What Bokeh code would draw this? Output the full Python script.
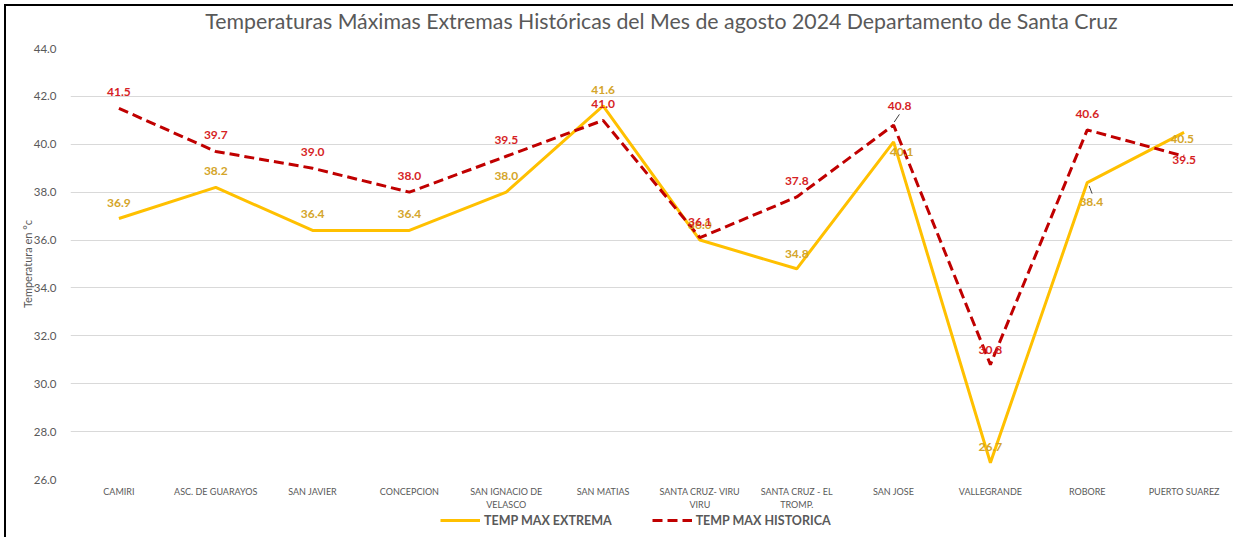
from bokeh.plotting import figure
from bokeh.layouts import column
from bokeh.models import (ColumnDataSource, Range1d, FixedTicker, NumeralTickFormatter,
                          Legend, LegendItem, Label)
from bokeh.core.properties import value
from bokeh.transform import dodge
from bokeh.embed import file_html
from bokeh.resources import INLINE

# ---------------- data ----------------
title_text = "Temperaturas Máximas Extremas Históricas del Mes de agosto 2024 Departamento de Santa Cruz"
stations = ["CAMIRI", "ASC. DE GUARAYOS", "SAN JAVIER", "CONCEPCION",
            "SAN IGNACIO DE\nVELASCO", "SAN MATIAS", "SANTA CRUZ- VIRU\nVIRU",
            "SANTA CRUZ - EL\nTROMP.", "SAN JOSE", "VALLEGRANDE", "ROBORE", "PUERTO SUAREZ"]
temp_max_extrema = [36.9, 38.2, 36.4, 36.4, 38.0, 41.6, 36.0, 34.8, 40.1, 26.7, 38.4, 40.5]
temp_max_historica = [41.5, 39.7, 39.0, 38.0, 39.5, 41.0, 36.1, 37.8, 40.8, 30.8, 40.6, 39.5]
y_ticks = [26, 28, 30, 32, 34, 36, 38, 40, 42, 44]

# label offsets (screen px)
ext_dx = [0, 0, 0, 0, 0, 0, 0, 0, 8, 0, 4, -2]
ext_dy = [-16, -16, -16, -16, -16, -16, -15, -15, 10, -16, 19, 7]
his_dx = [0, 0, 0, 0, 0, 0, 0, 0, 6, 0, 0, 0]
his_dy = [-16, -16, -16, -16, -16, -16, -16, -16, -19, -15, -16, 4]

GRAY = "#595959"
FONT = "Lato"
YELLOW = "#FFC000"
RED = "#C00000"
LEFT_EDGE = {"box-shadow": "inset 4px 0 0 0 #ffffff, inset 6px 0 0 0 #000000",
             "background-color": "#ffffff"}
TOP_LEFT_EDGE = {"box-shadow": "inset 4px 4px 0 0 #ffffff, inset 6px 6px 0 0 #000000",
                 "background-color": "#ffffff"}

src = ColumnDataSource(dict(
    st=stations, ext=temp_max_extrema, his=temp_max_historica,
    ext_txt=["%.1f" % v for v in temp_max_extrema],
    his_txt=["%.1f" % v for v in temp_max_historica],
    edx=ext_dx, edy=ext_dy, hdx=his_dx, hdy=his_dy,
))

# ---- title strip ----
p0 = figure(x_range=stations, y_range=Range1d(0, 1), width=1233, height=40,
            output_backend="svg", toolbar_location=None,
            x_axis_location=None, y_axis_location=None,
            min_border_left=0, min_border_right=0, min_border_top=0, min_border_bottom=0)
p0.outline_line_color = None
p0.grid.visible = False
p0.border_fill_alpha = 0
p0.background_fill_alpha = 0
p0.styles = TOP_LEFT_EDGE
p0.add_layout(Label(x=591, y=20, x_units="screen", y_units="screen", text=title_text,
                    text_align="center", text_baseline="middle", text_font=FONT,
                    text_font_size="21.3px", text_color=GRAY))

# ---- main chart ----
p = figure(x_range=p0.x_range, y_range=Range1d(26, 44), width=1233, height=472,
           output_backend="svg", toolbar_location=None,
           min_border_left=70, min_border_right=1, min_border_top=8, min_border_bottom=33)

p.outline_line_color = None
p.background_fill_color = "white"
p.border_fill_alpha = 0
p.styles = LEFT_EDGE

p.xgrid.grid_line_color = None
p.ygrid.grid_line_color = "#D9D9D9"
p.ygrid.grid_line_width = 1

p.yaxis.ticker = FixedTicker(ticks=y_ticks)
p.yaxis.formatter = NumeralTickFormatter(format="0.0")
p.yaxis.axis_line_color = None
p.yaxis.major_tick_line_color = None
p.yaxis.minor_tick_line_color = None
p.yaxis.major_label_text_font = FONT
p.yaxis.major_label_text_font_size = "11.5px"
p.yaxis.major_label_text_color = GRAY
p.yaxis.major_label_standoff = 8
p.yaxis.axis_label = "Temperatura en °c"
p.yaxis.axis_label_text_font = FONT
p.yaxis.axis_label_text_font_size = "11px"
p.yaxis.axis_label_text_font_style = "normal"
p.yaxis.axis_label_text_color = GRAY
p.yaxis.axis_label_standoff = -3

p.xaxis.axis_line_color = None
p.xaxis.major_tick_line_color = None
p.xaxis.major_tick_out = 0
p.xaxis.major_label_text_font = FONT
p.xaxis.major_label_text_font_size = "9px"
p.xaxis.major_label_text_color = GRAY
p.xaxis.major_label_standoff = 6

p.line("st", "ext", source=src, line_color=YELLOW, line_width=3)
p.line("st", "his", source=src, line_color=RED, line_width=3, line_dash="10 5")

# leader lines
p.segment(x0=dodge("st", 0.007, range=p.x_range), y0=temp_max_historica[8] + 0.13,
          x1=dodge("st", 0.06, range=p.x_range), y1=temp_max_historica[8] + 0.45,
          source=ColumnDataSource(dict(st=[stations[8]])), line_color="#404040", line_width=1)
p.segment(x0=dodge("st", 0.02, range=p.x_range), y0=temp_max_extrema[10] - 0.14,
          x1=dodge("st", 0.05, range=p.x_range), y1=temp_max_extrema[10] - 0.46,
          source=ColumnDataSource(dict(st=[stations[10]])), line_color="#404040", line_width=1)

p.text("st", "ext", text="ext_txt", source=src, x_offset="edx", y_offset="edy",
       text_align="center", text_baseline="middle", text_font=value(FONT),
       text_font_style="bold", text_font_size="12px", text_color="#D4A52A")
p.text("st", "his", text="his_txt", source=src, x_offset="hdx", y_offset="hdy",
       text_align="center", text_baseline="middle", text_font=value(FONT),
       text_font_style="bold", text_font_size="12px", text_color="#D61F26")

# ---- legend strip (same series, drawn outside its visible y range) ----
p2 = figure(x_range=p0.x_range, y_range=Range1d(0, 1), width=1233, height=25,
            output_backend="svg", toolbar_location=None,
            x_axis_location=None, y_axis_location=None,
            min_border_left=0, min_border_right=0, min_border_top=0, min_border_bottom=0)
p2.outline_line_color = None
p2.grid.visible = False
p2.border_fill_alpha = 0
p2.background_fill_alpha = 0
p2.styles = LEFT_EDGE
l_ext = p2.line("st", "ext", source=src, line_color=YELLOW, line_width=3)
l_his = p2.line("st", "his", source=src, line_color=RED, line_width=3, line_dash="10 5")

legend = Legend(items=[LegendItem(label="TEMP MAX EXTREMA", renderers=[l_ext]),
                       LegendItem(label="TEMP MAX HISTORICA", renderers=[l_his])],
                orientation="horizontal", location=(370, 7),
                label_text_font=FONT, label_text_font_style="bold",
                label_text_font_size="12.5px", label_text_color=GRAY,
                glyph_width=40, spacing=40, label_standoff=4,
                padding=0, margin=0, border_line_color=None, background_fill_alpha=0)
p2.add_layout(legend)

layout = column(p0, p, p2, spacing=0)
open("out.html", "w").write(file_html(layout, INLINE))
